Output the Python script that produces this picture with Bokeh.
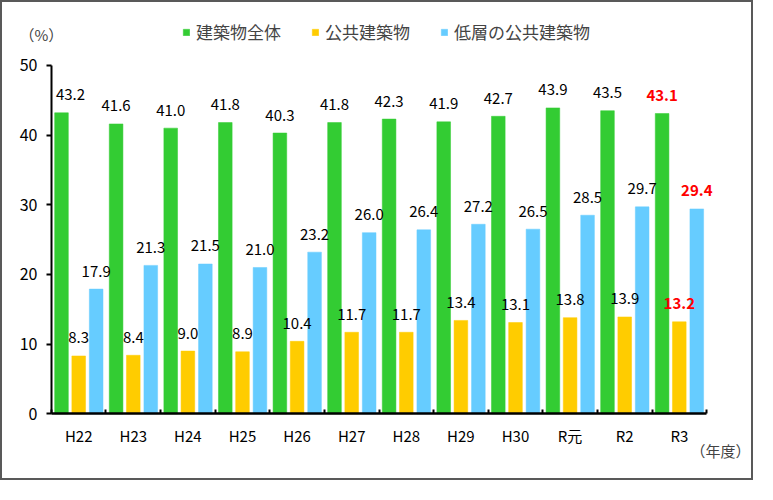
from bokeh.plotting import figure
from bokeh.models import ColumnDataSource, FixedTicker, Legend, LegendItem, Label, Range1d
from bokeh.embed import file_html
from bokeh.resources import INLINE
from bokeh.core.properties import value

categories = ["H22", "H23", "H24", "H25", "H26", "H27", "H28", "H29", "H30", "R元", "R2", "R3"]
all_buildings = [43.2, 41.6, 41.0, 41.8, 40.3, 41.8, 42.3, 41.9, 42.7, 43.9, 43.5, 43.1]
public_buildings = [8.3, 8.4, 9.0, 8.9, 10.4, 11.7, 11.7, 13.4, 13.1, 13.8, 13.9, 13.2]
lowrise_public = [17.9, 21.3, 21.5, 21.0, 23.2, 26.0, 26.4, 27.2, 26.5, 28.5, 29.7, 29.4]
series_names = ["建築物全体", "公共建築物", "低層の公共建築物"]
y_ticks = [0, 10, 20, 30, 40, 50]

colors = ["#33CC33", "#FFCC00", "#66CCFF"]
offsets = [-0.315, 0.0, 0.32]
FONT = "Noto Sans CJK JP"
n = len(categories)

W, H = 753, 480
p = figure(width=W, height=H, output_backend="svg", toolbar_location=None,
           x_range=Range1d(-0.8956, n + 0.8956), y_range=Range1d(-9.86, 59.03),
           min_border_left=0, min_border_right=0, min_border_top=0, min_border_bottom=0)
p.styles = {"border": "2px solid #595959"}
p.outline_line_color = None
p.xgrid.grid_line_color = None
p.ygrid.grid_line_color = None
p.background_fill_color = "white"
p.border_fill_color = "white"

renderers = []
sources = []
for k, vals in enumerate([all_buildings, public_buildings, lowrise_public]):
    xs = [i + 0.5 + offsets[k] for i in range(n)]
    lab_colors = ["#000000"] * (n - 1) + ["#FF0000"]
    styles = ["normal"] * (n - 1) + ["bold"]
    xo = [0] * n
    if k == 0:
        xo[0] = 9
    src = ColumnDataSource(dict(x=xs, top=vals, txt=[f"{v:.1f}" for v in vals],
                                tc=lab_colors, fs=styles, xo=xo))
    sources.append(src)
    r = p.vbar(x="x", top="top", width=0.25, bottom=0, source=src,
               fill_color=colors[k], line_color=colors[k], line_width=0.5)
    renderers.append(r)

for src in sources:
    p.text(x="x", y="top", text="txt", source=src, text_align="center",
           text_baseline="middle", y_offset=-18, x_offset="xo", text_color="tc",
           text_font_style="fs", text_font=value(FONT), text_font_size="15px")

# x axis
xa = p.xaxis[0]
xa.fixed_location = 0
xa.bounds = (0, n)
xa.ticker = FixedTicker(ticks=[i + 0.5 for i in range(n)], minor_ticks=list(range(n + 1)))
xa.major_label_overrides = {i + 0.5: c for i, c in enumerate(categories)}
xa.major_tick_line_color = None
xa.major_tick_in = 0
xa.major_tick_out = 0
xa.minor_tick_in = 4
xa.minor_tick_out = 0
xa.minor_tick_line_color = "black"
xa.minor_tick_line_width = 2
xa.axis_line_color = "black"
xa.axis_line_width = 2.5
xa.major_label_standoff = 11
xa.major_label_text_font = FONT
xa.major_label_text_font_size = "15px"
xa.major_label_text_color = "black"

# y axis
ya = p.yaxis[0]
ya.fixed_location = 0
ya.bounds = (0, 50)
ya.ticker = FixedTicker(ticks=y_ticks)
ya.minor_tick_line_color = None
ya.major_tick_in = 0
ya.major_tick_out = 5
ya.major_tick_line_color = "black"
ya.major_tick_line_width = 2
ya.axis_line_color = "black"
ya.axis_line_width = 2
ya.major_label_standoff = 9
ya.major_label_text_font = FONT
ya.major_label_text_font_size = "16px"
ya.major_label_text_color = "black"

legend = Legend(items=[LegendItem(label=series_names[k], renderers=[renderers[k]]) for k in range(3)],
                orientation="horizontal", location=(180, 438), padding=0, margin=0,
                spacing=30, label_standoff=6, glyph_width=8, glyph_height=8,
                label_text_font=FONT, label_text_font_size="17px", label_height=20,
                border_line_color=None, background_fill_alpha=0)
p.add_layout(legend, "center")

p.add_layout(Label(x=17, y=448, x_units="screen", y_units="screen", text="（%）",
                   text_font=FONT, text_font_size="15px", text_baseline="middle"))
p.add_layout(Label(x=688, y=32, x_units="screen", y_units="screen", text="（年度）",
                   text_font=FONT, text_font_size="15px", text_baseline="middle"))

open("out.html", "w").write(file_html(p, INLINE))
